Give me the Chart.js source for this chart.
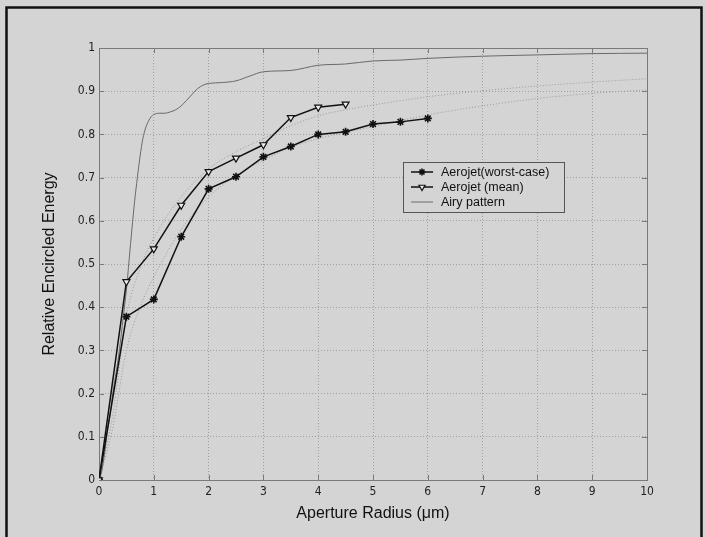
<!DOCTYPE html>
<html lang="en">
<head>
<meta charset="UTF-8">
<title>Relative Encircled Energy</title>
<script src="https://cdn.jsdelivr.net/npm/chart.js"></script>
<style>
  html, body { margin: 0; padding: 0; background: #d4d4d4; }
</style>
</head>
<body>
<canvas id="eeChart" width="706" height="537"></canvas>
<script>
// measured points
const radiusWorst = [0, 0.5, 1, 1.5, 2, 2.5, 3, 3.5, 4, 4.5, 5, 5.5, 6];
const energyWorst = [0, 0.378, 0.418, 0.563, 0.674, 0.702, 0.748, 0.772, 0.800, 0.806, 0.824, 0.829, 0.837];

const radiusMean = [0, 0.5, 1, 1.5, 2, 2.5, 3, 3.5, 4, 4.5];
const energyMean = [0, 0.459, 0.535, 0.636, 0.714, 0.745, 0.776, 0.839, 0.863, 0.870];

// airy pattern curve
const radiusAiry = [0, 0.05, 0.1, 0.15, 0.2, 0.25, 0.3, 0.35, 0.4, 0.45, 0.5, 0.55, 0.6, 0.65, 0.7, 0.75, 0.8, 0.85, 0.9, 0.95,
  1.0, 1.1, 1.2, 1.3, 1.4, 1.5, 1.6, 1.7, 1.8, 1.9, 2.0, 2.25, 2.5, 2.75, 3.0, 3.5, 4, 4.5, 5, 5.5, 6, 7, 8, 9, 10];
const energyAiry = [0, 0.02, 0.06, 0.11, 0.15, 0.2, 0.24, 0.28, 0.33, 0.385, 0.44, 0.51, 0.58, 0.645, 0.70, 0.75, 0.79, 0.815, 0.83, 0.841,
  0.846, 0.849, 0.849, 0.852, 0.857, 0.866, 0.879, 0.893, 0.906, 0.914, 0.918, 0.920, 0.924, 0.935, 0.945, 0.948, 0.960, 0.963, 0.970, 0.972, 0.976, 0.981, 0.984, 0.987, 0.988];

// unlabelled dotted fit curves
const radiusFit = [0, 0.25, 0.5, 0.75, 1, 1.5, 2, 2.5, 3, 3.5, 4, 4.5, 5, 6, 7, 8, 9, 10];
const energyFitUpper = [0, 0.15, 0.38, 0.49, 0.56, 0.655, 0.72, 0.76, 0.79, 0.82, 0.843, 0.857, 0.868, 0.887, 0.901, 0.912, 0.921, 0.929];
const energyFitLower = [0, 0.12, 0.30, 0.40, 0.47, 0.58, 0.655, 0.705, 0.74, 0.77, 0.79, 0.805, 0.818, 0.845, 0.866, 0.883, 0.895, 0.903];

const xTicks = [0, 1, 2, 3, 4, 5, 6, 7, 8, 9, 10];
const yTickLabels = ['0', '0.1', '0.2', '0.3', '0.4', '0.5', '0.6', '0.7', '0.8', '0.9', '1'];

const toXY = (xs, ys) => xs.map((x, i) => ({ x: x, y: ys[i] }));

const BG = '#d4d4d4';
const tickFont = {
  family: "'Liberation Sans Narrow', 'DejaVu Sans Condensed', 'Roboto Condensed', 'Liberation Sans', Arial, sans-serif",
  size: 12
};

// background, axes box, inner tick marks, outer frame
const framePlugin = {
  id: 'frame',
  beforeDraw(chart) {
    const ctx = chart.ctx;
    ctx.save();
    ctx.fillStyle = BG;
    ctx.fillRect(0, 0, chart.width, chart.height);
    ctx.restore();
  },
  beforeDatasetsDraw(chart) {
    const { ctx, chartArea: a, scales } = chart;
    ctx.save();
    ctx.strokeStyle = '#7a7a7a';
    ctx.lineWidth = 1;
    ctx.beginPath();
    xTicks.forEach(v => {
      const px = Math.round(scales.x.getPixelForValue(v)) + 0.5;
      ctx.moveTo(px, a.bottom); ctx.lineTo(px, a.bottom - 5);
      ctx.moveTo(px, a.top); ctx.lineTo(px, a.top + 5);
    });
    yTickLabels.forEach((l, i) => {
      const py = Math.round(scales.y.getPixelForValue(i / 10)) + 0.5;
      ctx.moveTo(a.left, py); ctx.lineTo(a.left + 5, py);
      ctx.moveTo(a.right, py); ctx.lineTo(a.right - 5, py);
    });
    ctx.stroke();
    ctx.strokeRect(Math.round(a.left) + 0.5, Math.round(a.top) + 0.5, Math.round(a.right - a.left), Math.round(a.bottom - a.top));
    ctx.restore();
  },
  afterDraw(chart) {
    const ctx = chart.ctx;
    ctx.save();
    ctx.strokeStyle = '#111';
    ctx.lineWidth = 2.5;
    ctx.beginPath();
    ctx.moveTo(6.5, chart.height);
    ctx.lineTo(6.5, 7.5);
    ctx.lineTo(701.5, 7.5);
    ctx.lineTo(701.5, chart.height);
    ctx.stroke();
    ctx.restore();
  }
};

// matlab style legend box inside the axes
const legendPlugin = {
  id: 'boxLegend',
  afterDatasetsDraw(chart) {
    const ctx = chart.ctx;
    const box = { x: 403, y: 162, w: 161, h: 50 };
    ctx.save();
    ctx.fillStyle = BG;
    ctx.fillRect(box.x, box.y, box.w, box.h);
    ctx.strokeStyle = '#555';
    ctx.lineWidth = 1;
    ctx.strokeRect(box.x + 0.5, box.y + 0.5, box.w, box.h);
    chart.data.datasets.slice(0, 3).forEach((ds, i) => {
      const y = box.y + 10 + i * 15;
      ctx.strokeStyle = ds.borderColor;
      ctx.lineWidth = ds.borderWidth;
      ctx.setLineDash([]);
      ctx.beginPath();
      ctx.moveTo(box.x + 8, y);
      ctx.lineTo(box.x + 30, y);
      ctx.stroke();
      if (ds.pointRadius > 0) {
        ctx.fillStyle = ds.pointBackgroundColor;
        ctx.strokeStyle = ds.pointBorderColor;
        ctx.lineWidth = ds.pointBorderWidth;
        Chart.helpers.drawPoint(ctx, {
          pointStyle: ds.pointStyle,
          rotation: ds.rotation || 0,
          radius: ds.pointRadius - 0.5,
          borderWidth: ds.pointBorderWidth
        }, box.x + 19, y);
      }
      ctx.fillStyle = '#111';
      ctx.font = "12.5px 'Liberation Sans', Arial, sans-serif";
      ctx.textBaseline = 'middle';
      ctx.textAlign = 'left';
      ctx.fillText(ds.label, box.x + 38, y + 1);
    });
    ctx.restore();
  }
};

new Chart(document.getElementById('eeChart').getContext('2d'), {
  type: 'scatter',
  data: {
    datasets: [{
      label: 'Aerojet(worst-case)',
      data: toXY(radiusWorst, energyWorst),
      showLine: true,
      borderColor: '#111',
      borderWidth: 1.5,
      pointStyle: 'star',
      pointRadius: 4,
      pointBorderWidth: 1.6,
      pointBorderColor: '#111',
      pointBackgroundColor: '#111',
      order: 1
    }, {
      label: 'Aerojet (mean)',
      data: toXY(radiusMean, energyMean),
      showLine: true,
      borderColor: '#111',
      borderWidth: 1.5,
      pointStyle: 'triangle',
      rotation: 180,
      pointRadius: 4,
      pointBorderWidth: 1.2,
      pointBorderColor: '#111',
      pointBackgroundColor: '#ececec',
      order: 0
    }, {
      label: 'Airy pattern',
      data: toXY(radiusAiry, energyAiry),
      showLine: true,
      borderColor: '#6a6a6a',
      borderWidth: 1,
      pointRadius: 0,
      cubicInterpolationMode: 'monotone',
      order: 2
    }, {
      label: 'fit upper',
      data: toXY(radiusFit, energyFitUpper),
      showLine: true,
      borderColor: '#9a9a9a',
      borderWidth: 1,
      borderDash: [1, 2],
      pointRadius: 0,
      cubicInterpolationMode: 'monotone',
      order: 3
    }, {
      label: 'fit lower',
      data: toXY(radiusFit, energyFitLower),
      showLine: true,
      borderColor: '#9a9a9a',
      borderWidth: 1,
      borderDash: [1, 2],
      pointRadius: 0,
      cubicInterpolationMode: 'monotone',
      order: 3
    }]
  },
  options: {
    responsive: false,
    animation: false,
    layout: { padding: { left: 0, top: 48, right: 59, bottom: 0 } },
    plugins: {
      legend: { display: false },
      tooltip: { enabled: false }
    },
    scales: {
      x: {
        type: 'linear',
        min: 0,
        max: 10,
        afterFit: s => { s.height = 57; },
        afterBuildTicks: s => { s.ticks = xTicks.map(v => ({ value: v })); },
        grid: { color: '#a0a0a0', lineWidth: 1, borderDash: [1, 2], drawTicks: false },
        border: { display: false, dash: [1, 2] },
        ticks: { color: '#222', font: tickFont, padding: 5, maxRotation: 0 },
        title: {
          display: true,
          text: 'Aperture Radius (\u03bcm)',
          color: '#111',
          font: { family: "'Liberation Sans', Arial, sans-serif", size: 16 },
          padding: { top: 0, bottom: 14 }
        }
      },
      y: {
        type: 'linear',
        min: 0,
        max: 1,
        afterFit: s => { s.width = 99; },
        afterBuildTicks: s => { s.ticks = yTickLabels.map((l, i) => ({ value: i / 10 })); },
        grid: { color: '#a0a0a0', lineWidth: 1, borderDash: [1, 2], drawTicks: false },
        border: { display: false, dash: [1, 2] },
        ticks: {
          color: '#222',
          font: tickFont,
          padding: 4,
          callback: (v, i) => yTickLabels[i]
        },
        title: {
          display: true,
          text: 'Relative Encircled Energy',
          color: '#111',
          font: { family: "'Liberation Sans', Arial, sans-serif", size: 16 },
          padding: { top: 40, bottom: 0 }
        }
      }
    }
  },
  plugins: [framePlugin, legendPlugin]
});
</script>
</body>
</html>
